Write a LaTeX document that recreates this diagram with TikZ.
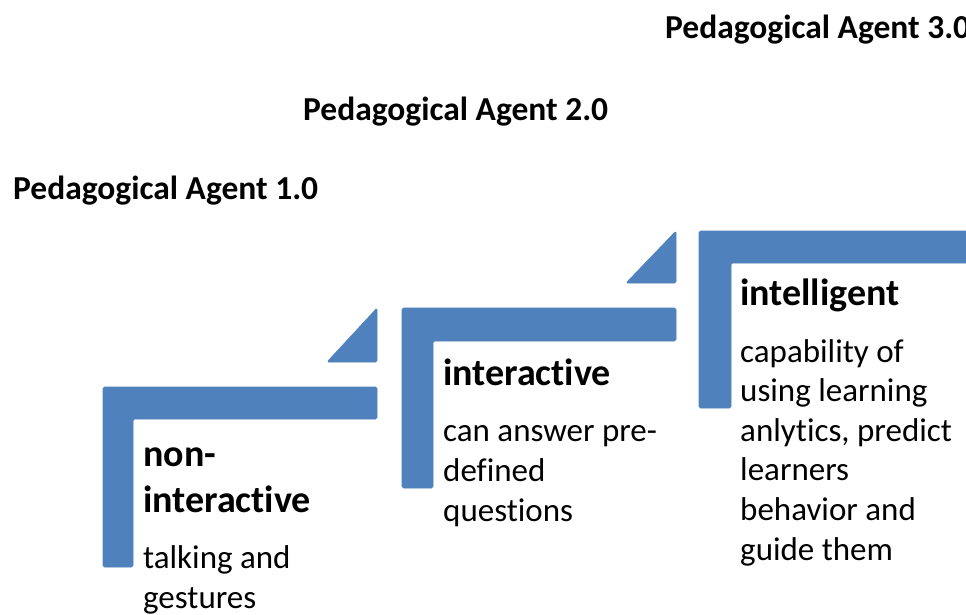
\documentclass[tikz,border=0pt]{standalone}
\usepackage{fontspec}
\setmainfont{Carlito}[Ligatures={NoCommon}]
\definecolor{pablue}{HTML}{4F81BD}
\tikzset{
  stair/.style={fill=pablue, draw=pablue, line width=0.6pt, rounded corners=1.5pt},
  titletext/.style={font=\fontsize{33.5}{40}\selectfont\bfseries, inner sep=0pt, anchor=base west},
  headtext/.style={font=\fontsize{38}{46}\selectfont\bfseries, inner sep=0pt, anchor=base west, align=left},
  bodytext/.style={font=\fontsize{33}{39.6}\selectfont, inner sep=0pt, anchor=base west, align=left}
}
\begin{document}
\begin{tikzpicture}[x=1pt,y=-1pt]
\useasboundingbox (0,0) rectangle (966,615);
\fill[white] (0,0) rectangle (966,615);
% step 1
\path[stair] (103,387) -- (377,387) -- (377,419) -- (133,419) -- (133,567) -- (103,567) -- cycle;
\path[stair] (327,362) -- (377,362) -- (377,308) -- cycle;
% step 2
\path[stair] (402,308) -- (676,308) -- (676,341) -- (433,341) -- (433,488) -- (402,488) -- cycle;
\path[stair] (626,283) -- (676,283) -- (676,231) -- cycle;
% step 3
\path[stair] (699,231) -- (980,231) -- (980,263) -- (731,263) -- (731,408) -- (699,408) -- cycle;
% titles
\node[titletext] (t1) at (13,199) {Pedagogical Agent 1.0};
\node[titletext] (t2) at (303,121) {Pedagogical Agent 2.0};
\node[titletext] (t3) at (665,39) {Pedagogical Agent 3.0};
% headings (anchor = baseline of last line)
\node[headtext] (h1) at (143,512) {non-\\interactive};
\node[headtext] (h2) at (443,385) {interactive};
\node[headtext] (h3) at (740,305) {intelligent};
% bodies (anchor = baseline of last line)
\node[bodytext] (b1) at (143,608) {talking and\\gestures};
\node[bodytext] (b2) at (443,521) {can answer pre-\\defined\\questions};
\node[bodytext] (b3) at (740,560) {capability of\\using learning\\anlytics, predict\\learners\\behavior and\\guide them};
\end{tikzpicture}
\end{document}
